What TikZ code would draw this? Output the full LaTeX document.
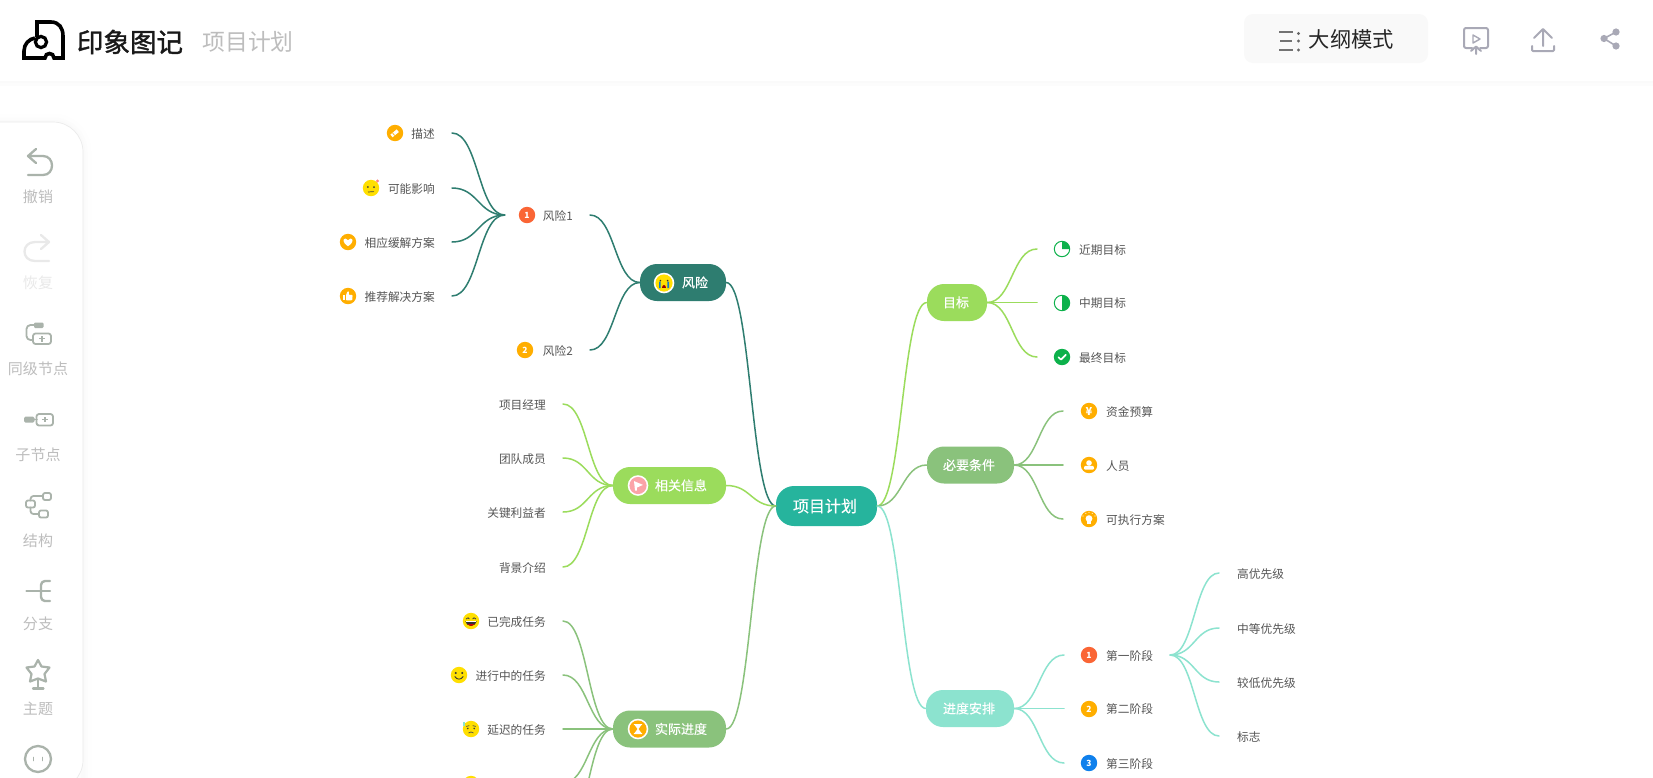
\documentclass[tikz,border=0pt]{standalone}
\usepackage{fontspec}
\setmainfont{Noto Sans CJK SC}
\newfontfamily\brandfont[FakeBold=1.4]{Noto Sans CJK SC}
\newfontfamily\pillfont[FakeBold=0.35]{Noto Sans CJK SC}
\usetikzlibrary{calc}
\definecolor{cCentral}{HTML}{26B49D}
\definecolor{cRisk}{HTML}{2E7D70}
\definecolor{cLime}{HTML}{9BDC5C}
\definecolor{cSage}{HTML}{8AC27C}
\definecolor{cMint}{HTML}{8CE3CF}
\definecolor{cLeaf}{HTML}{555555}
\definecolor{cTool}{HTML}{AAB3AB}
\definecolor{cToolLabel}{HTML}{BDBDBD}
\definecolor{cOff}{HTML}{E9E9E9}
\definecolor{cTop}{HTML}{A9A9B6}
\definecolor{cOrange}{HTML}{FFAE00}
\definecolor{cRed}{HTML}{FA6535}
\definecolor{cBlue}{HTML}{0F80EC}
\definecolor{cPink}{HTML}{FBA3A8}
\definecolor{cYel}{HTML}{FFDF00}
\definecolor{cGreen}{HTML}{0DB14B}
\newcommand\pad[3]{\hspace*{#1pt}#2\hspace*{#3pt}}
\tikzset{
  x=1pt,y=-1pt,
  conn/.style={line width=1.5pt,line cap=round},
  sc/.style={to path={let \p1=(\tikztostart),\p2=(\tikztotarget) in .. controls ({.5*\x1+.5*\x2},\y1) and ({.5*\x1+.5*\x2},\y2) .. (\tikztotarget)}},
  leaf/.style={inner sep=0pt,text=cLeaf,font=\fontsize{11.7}{12}\selectfont,text height=11.3pt,text depth=1pt},
  pill/.style={inner sep=0pt,rounded corners=17pt,text=white,minimum height=37pt,font=\pillfont\fontsize{13}{14}\selectfont,text height=11.4pt,text depth=1.6pt},
  toollabel/.style={inner sep=0pt,text=cToolLabel,font=\fontsize{15}{16}\selectfont},
  toolline/.style={draw=cTool,line width=2.3pt,line cap=round,line join=round,fill=none},
  topline/.style={draw=cTop,line width=2pt,line cap=round,line join=round,fill=none},
  pics/orangebase/.style={code={\fill[cOrange] (0,0) circle (8.2);}},
  pics/numdot/.style n args={2}{code={
    \fill[#1] (0,0) circle (8.2);
    \node[inner sep=0pt,text=white,font=\fontsize{8.5}{9}\bfseries\selectfont] (-n) at (0,0) {#2};}},
  pics/pencil/.style={code={
    \pic {orangebase};
    \fill[white,rotate=40] (-4.6,-1.7) rectangle (3.6,1.7);
    \fill[cOrange,rotate=40] (-2.2,-1.7) rectangle (-1.5,1.7);}},
  pics/heart/.style={code={
    \pic {orangebase};
    \fill[white] (0,4.2) .. controls (-6,.5) and (-5.2,-3.6) .. (-2.4,-3.4) .. controls (-1.2,-3.3) and (-.4,-2.5) .. (0,-1.8) .. controls (.4,-2.5) and (1.2,-3.3) .. (2.4,-3.4) .. controls (5.2,-3.6) and (6,.5) .. (0,4.2) -- cycle;}},
  pics/thumb/.style={code={
    \pic {orangebase};
    \fill[white] (-5,-.8) rectangle (-2.8,4.3);
    \fill[white,rounded corners=.8pt] (-2,4.3) -- (-2,-.8) -- (-.4,-4.8) -- (1,-4.6) -- (.7,-1.2) -- (4.6,-1.2) -- (4.2,4.3) -- cycle;}},
  pics/yen/.style={code={
    \pic {orangebase};
    \node[inner sep=0pt,text=white,font=\fontsize{11}{11}\bfseries\selectfont] (-n) at (0,0) {¥};}},
  pics/person/.style={code={
    \pic {orangebase};
    \fill[white] (0,-2) circle (2.8);
    \fill[white,rounded corners=1pt] (-5.2,4.5) -- (-4.6,.8) -- (4.6,.8) -- (5.2,4.5) -- cycle;}},
  pics/bulb/.style={code={
    \pic {orangebase};
    \fill[white] (0,-.4) circle (3.4);
    \fill[white] (-1.8,1) rectangle (1.8,4.6);
    \foreach \a/\b in {-6/-3,-3.2/-5.6,0/-6.6,3.2/-5.6,6/-3}{\fill[white] (\a,\b) circle (.55);}}},
  pics/faceflat/.style={code={
    \fill[cYel] (0,0) circle (8.2);
    \fill[black!75] (-3.2,-1) circle (1) (3,-1) circle (1);
    \draw[black!75,line width=.7pt] (-3,4) -- (3,3.6);
    \fill[red!50!white] (6.5,-7) circle (1.7);}},
  pics/facelaugh/.style={code={
    \fill[cYel] (0,0) circle (8.2);
    \draw[black!75,line width=.8pt] (-5,-2) -- (-3,-3.2) -- (-1.6,-2) (1.6,-2) -- (3,-3.2) -- (5,-2);
    \fill[black!80] (-5.6,0) .. controls (-4,6.6) and (4,6.6) .. (5.6,0) -- cycle;
    \fill[red!80!black] (-3.4,3) .. controls (-1.5,5.4) and (1.5,5.4) .. (3.4,3) -- cycle;
    \fill[white] (-5,.2) rectangle (5,1.2);}},
  pics/facesmile/.style={code={
    \fill[cYel] (0,0) circle (8.2);
    \fill[black!80] (-3.2,-2) circle (1.1) (3.2,-2) circle (1.1);
    \draw[black!80,line width=.8pt,line cap=round] (-4.2,1.5) .. controls (-2,5) and (2,5) .. (4.2,1.5);}},
  pics/facesweat/.style={code={
    \fill[cYel] (0,0) circle (8.2);
    \fill[cMint] (-8,-7.4) rectangle (-5.6,-2.8);
    \draw[black!70,line width=.7pt] (-4.8,-2.6) -- (-1.6,-3.4) (1.6,-3.4) -- (4.8,-2.6);
    \fill[black!75] (-3.2,-.6) circle (.9) (3.2,-.6) circle (.9);
    \draw[black!70,line width=.7pt] (-2.4,4) .. controls (-1,2.6) and (1,2.6) .. (2.4,4);}},
  pics/facecry/.style={code={
    \fill[white] (0,0) circle (10.3);
    \fill[cYel] (0,0) circle (8.6);
    \fill[black!80] (-3.6,-2.4) circle (.9) (3.6,-2.4) circle (.9);
    \fill[red!60!black] (-2,4.6) .. controls (-2,.8) and (2,.8) .. (2,4.6) -- cycle;
    \fill[cyan!60!blue] (-5,-1.4) rectangle (-3.4,5.2) (3.4,-1.4) rectangle (5,5.2);}},
  pics/flagicon/.style={code={
    \fill[white] (0,0) circle (10.3);
    \fill[cPink] (0,0) circle (8.6);
    \fill[white] (-4,-4.4) -- (5,-.6) -- (-1,2) -- (-1.2,5) -- (-3,5) -- cycle;}},
  pics/hourglass/.style={code={
    \fill[white] (0,0) circle (10.3);
    \fill[cOrange] (0,0) circle (8.6);
    \fill[white] (-4.2,-5) rectangle (4.2,-3.8) (-4.2,3.8) rectangle (4.2,5);
    \fill[white] (-3.2,-3.8) -- (3.2,-3.8) -- (.5,0) -- (3.2,3.8) -- (-3.2,3.8) -- (-.5,0) -- cycle;}},
  pics/pieq/.style={code={
    \draw[cGreen,line width=1pt,fill=white] (0,0) circle (7.7);
    \fill[cGreen] (0,0) -- (0,-7.7) arc[start angle=90,end angle=0,radius=7.7pt] -- cycle;}},
  pics/pieh/.style={code={
    \draw[cGreen,line width=1pt,fill=white] (0,0) circle (7.7);
    \fill[cGreen] (0,-7.7) arc[start angle=90,end angle=-90,radius=7.7pt] -- cycle;}},
  pics/piec/.style={code={
    \fill[cGreen] (0,0) circle (8.2);
    \draw[white,line width=1.6pt,line cap=round,line join=round] (-3.6,.2) -- (-1,2.6) -- (3.8,-2.2);}},
}
\begin{document}
\begin{tikzpicture}
\useasboundingbox (0,0) rectangle (1653,777);
\fill[white] (0,0) rectangle (1653,777);

% top bar shadow
\fill[black!2] (0,81) rectangle (1653,83);
\fill[black!1] (0,83) rectangle (1653,86);

% sidebar panel
\foreach \w/\c in {16/black!0.5,9/black!1,4/black!2}{
  \draw[line width=\w pt,\c,rounded corners=30pt] (-60,122) -- (83,122) -- (83,790);}
\fill[white,draw=black!8,line width=.7pt,rounded corners=30pt] (-60,122) -- (83,122) -- (83,790) -- (-60,790) -- cycle;

% logo
\draw[black,line width=3.6pt,line join=miter,line cap=butt]
  (37,37) -- (37,22) -- (51,22) .. controls (59,22) and (63,28) .. (63,36) -- (63,58) -- (54,58)
  .. controls (54,52) and (45,52) .. (45,58) -- (24,58) -- (24,51) .. controls (24,44) and (29,39) .. (35,38);
\draw[black,line width=3.2pt] (41,42) circle (5.6);
\node[inner sep=0pt,font=\brandfont\fontsize{26.5}{28}\selectfont,text=black!90] (brand) at (130,42) {印象图记};
\node[inner sep=0pt,font=\fontsize{22.8}{24}\selectfont,text=cToolLabel] (doctitle) at (248,42) {项目计划};

% outline button
\node[inner sep=0pt,fill=black!2.5,rounded corners=9pt,minimum width=184pt,minimum height=49pt] (outlinebtn) at (1336,38.5) {};
\draw[black!55,line width=1.5pt] (1279,32) -- (1293,32) (1280,41) -- (1292,41) (1279,50) -- (1293,50);
\fill[black!60] (1298.5,33.5) circle (1.6) (1298.5,41) circle (1.6) (1298.5,50) circle (1.6);
\node[inner sep=0pt,font=\fontsize{21.3}{22}\selectfont,text=black!85] (outlinetxt) at (1351.5,39.5) {大纲模式};

% present icon
\draw[topline,rounded corners=2pt] (1472,48) -- (1464,48) -- (1464,28) -- (1488,28) -- (1488,48) -- (1480,48);
\draw[cTop,line width=1.4pt,line join=round] (1473,35) -- (1480,39) -- (1473,43) -- cycle;
\draw[topline] (1476,54) -- (1476,47) (1471,51) -- (1476,46.5) -- (1481,51);
% upload icon
\draw[topline] (1543,46) -- (1543,30) (1534,38) -- (1543,29) -- (1552,38);
\draw[topline,rounded corners=1pt] (1532,46) -- (1532,51) -- (1554,51) -- (1554,46);
% share icon
\draw[cTop,line width=1.6pt] (1616,32) -- (1604,38.5) -- (1616,46);
\fill[cTop] (1616,32) circle (3.6) (1604,38.5) circle (3.6) (1616,46) circle (3.6);

% sidebar tools
% undo
\draw[toolline] (28,175) -- (43,175) .. controls (55,175) and (55,156) .. (43,156) -- (28,156) (36,149) -- (28,156) -- (36,163);
\node[toollabel] (undo) at (38,197) {撤销};
% redo
\draw[toolline,draw=cOff] (49,261) -- (35,261) .. controls (21,261) and (21,242) .. (35,242) -- (49,242) (41,235) -- (49,242) -- (41,249);
\node[toollabel,text=cOff] (redo) at (38,283) {恢复};
% sibling
\fill[cTool,rounded corners=1.2pt] (34,322.5) rectangle (43.5,328);
\draw[toolline,line width=1.8pt,rounded corners=4pt] (34,325) -- (26.5,325) -- (26.5,340) -- (33,340);
\draw[toolline,line width=1.8pt,rounded corners=2.5pt] (33,333.5) rectangle (51,344);
\draw[cTool,line width=1.3pt] (39,338.8) -- (45,338.8) (42,336) -- (42,341.6);
\node[toollabel] (sibling) at (38,369) {同级节点};
% child
\fill[cTool,rounded corners=1.5pt] (24,416.5) rectangle (34.5,422.5);
\draw[toolline,line width=1.8pt] (34,419.5) -- (37,419.5);
\draw[toolline,line width=1.8pt,rounded corners=2.5pt] (36.5,414) rectangle (53,425.5);
\draw[cTool,line width=1.3pt] (42,419.7) -- (48,419.7) (45,417) -- (45,422.4);
\node[toollabel] (child) at (38,454.5) {子节点};
% structure
\draw[toolline,line width=1.8pt,rounded corners=2pt] (26,500.5) rectangle (35,507.5);
\draw[toolline,line width=1.8pt,rounded corners=2pt] (43,493) rectangle (51,500);
\draw[toolline,line width=1.8pt,rounded corners=2pt] (39,510.5) rectangle (48,517.5);
\draw[toolline,line width=1.8pt,rounded corners=3pt] (30.5,500.5) -- (30.5,496) -- (43,496) (30.5,507.5) -- (30.5,514) -- (39,514);
\node[toollabel] (structure) at (38,541) {结构};
% branch
\draw[toolline,line width=2.4pt] (26.5,591) -- (50,591);
\draw[toolline,line width=2.4pt,rounded corners=4pt] (50,581) -- (41,581) -- (41,601) -- (50,601);
\node[toollabel] (branch) at (38,624) {分支};
% theme
\draw[toolline,line width=2.2pt] (38,660) -- (41.5,666.5) -- (49.5,667.5) -- (44.5,674) -- (46,681.5) -- (38,678.5) -- (30,681.5) -- (31.5,674) -- (26.5,667.5) -- (34.5,666.5) -- cycle;
\draw[toolline,line width=2.2pt] (38,679) -- (38,688) (33,688.5) -- (43.5,688.5);
\node[toollabel] (theme) at (38,709) {主题};
% face
\draw[toolline] (38,759) circle (13);
\draw[cTool,line width=1.6pt,line cap=round] (33.5,757.5) -- (33.5,760.5) (42.5,757.5) -- (42.5,760.5);

% main nodes
\node[pill,fill=cCentral,minimum height=40pt,rounded corners=18pt,font=\pillfont\fontsize{16}{17}\selectfont,text height=14.1pt,text depth=1.9pt] (central) at (826.5,506) {\pad{17}{项目计划}{20}};
\node[pill,fill=cRisk] (risk) at (683,282.5) {\pad{42}{风险}{18}};
\node[pill,fill=cLime] (info) at (669.5,485.5) {\pad{42}{相关信息}{19}};
\node[pill,fill=cSage] (progress) at (669.5,729) {\pad{42}{实际进度}{19}};
\node[pill,fill=cLime] (goal) at (957,302.5) {\pad{16}{目标}{18}};
\node[pill,fill=cSage] (need) at (970.5,465) {\pad{16}{必要条件}{19}};
\node[pill,fill=cMint] (plan) at (970,708.5) {\pad{17}{进度安排}{19}};

% left leaves, risk
\node[leaf,anchor=east] (r1a) at (452,133) {描述\hspace*{17pt}};
\node[leaf,anchor=east] (r1b) at (452,188) {可能影响\hspace*{17pt}};
\node[leaf,anchor=east] (r1c) at (452,242) {相应缓解方案\hspace*{17pt}};
\node[leaf,anchor=east] (r1d) at (452,296) {推荐解决方案\hspace*{17pt}};
\node[leaf,anchor=east] (r1) at (590,215) {\pad{38}{风险1}{17}};
\node[leaf,anchor=east] (r2) at (590,350) {\pad{38}{风险2}{17}};
% left leaves, info
\node[leaf,anchor=east] (i1) at (563,404) {项目经理\hspace*{17pt}};
\node[leaf,anchor=east] (i2) at (563,458) {团队成员\hspace*{17pt}};
\node[leaf,anchor=east] (i3) at (563,512) {关键利益者\hspace*{17pt}};
\node[leaf,anchor=east] (i4) at (563,567) {背景介绍\hspace*{17pt}};
% left leaves, progress
\node[leaf,anchor=east] (p1) at (563,621) {已完成任务\hspace*{17pt}};
\node[leaf,anchor=east] (p2) at (563,675) {进行中的任务\hspace*{17pt}};
\node[leaf,anchor=east] (p3) at (563,729) {延迟的任务\hspace*{17pt}};
\coordinate (p4) at (563,783);
\coordinate (p5) at (563,837);
% right leaves, goal
\node[leaf,anchor=west] (g1) at (1037,249) {\hspace*{42pt}近期目标};
\node[leaf,anchor=west] (g2) at (1037,302.5) {\hspace*{42pt}中期目标};
\node[leaf,anchor=west] (g3) at (1037,357) {\hspace*{42pt}最终目标};
% right leaves, need
\node[leaf,anchor=west] (n1) at (1063,411) {\hspace*{43pt}资金预算};
\node[leaf,anchor=west] (n2) at (1063,465) {\hspace*{43pt}人员};
\node[leaf,anchor=west] (n3) at (1063,519) {\hspace*{43pt}可执行方案};
% right leaves, plan
\node[leaf,anchor=west] (s1) at (1064,655) {\pad{42}{第一阶段}{17}};
\node[leaf,anchor=west] (s2) at (1064,708.5) {\hspace*{42pt}第二阶段};
\node[leaf,anchor=west] (s3) at (1064,763) {\hspace*{42pt}第三阶段};
\node[leaf,anchor=west] (t1) at (1219,573) {\hspace*{18pt}高优先级};
\node[leaf,anchor=west] (t2) at (1219,628) {\hspace*{18pt}中等优先级};
\node[leaf,anchor=west] (t3) at (1219,682) {\hspace*{18pt}较低优先级};
\node[leaf,anchor=west] (t4) at (1219,736) {\hspace*{18pt}标志};

% connectors
\draw[conn,cRisk] (central.west) to[sc] (risk.east);
\draw[conn,cLime] (central.west) to[sc] (info.east);
\draw[conn,cSage] (central.west) to[sc] (progress.east);
\draw[conn,cLime] (central.east) to[sc] (goal.west);
\draw[conn,cSage] (central.east) to[sc] (need.west);
\draw[conn,cMint] (central.east) to[sc] (plan.west);
\foreach \nd in {r1,r2}{\draw[conn,cRisk] (risk.west) to[sc] (\nd.east);}
\foreach \nd in {r1a,r1b,r1c,r1d}{\draw[conn,cRisk] (r1.west) to[sc] (\nd.east);}
\foreach \nd in {i1,i2,i3,i4}{\draw[conn,cLime] (info.west) to[sc] (\nd.east);}
\foreach \nd in {p1,p2,p3}{\draw[conn,cSage] (progress.west) to[sc] (\nd.east);}
\foreach \nd in {p4,p5}{\draw[conn,cSage] (progress.west) to[sc] (\nd);}
\foreach \nd in {g1,g2,g3}{\draw[conn,cLime] (goal.east) to[sc] (\nd.west);}
\foreach \nd in {n1,n2,n3}{\draw[conn,cSage] (need.east) to[sc] (\nd.west);}
\foreach \nd in {s1,s2,s3}{\draw[conn,cMint] (plan.east) to[sc] (\nd.west);}
\foreach \nd in {t1,t2,t3,t4}{\draw[conn,cMint] (s1.east) to[sc] (\nd.west);}

% icons
\pic (ic1) at (395,133) {pencil};
\pic (ic2) at (371,188) {faceflat};
\pic (ic3) at (348,242) {heart};
\pic (ic4) at (348,296) {thumb};
\pic (ic5) at (527,215) {numdot={cRed}{1}};
\pic (ic6) at (525,350) {numdot={cOrange}{2}};
\pic (ic7) at (664,283) {facecry};
\pic (ic8) at (638,485.5) {flagicon};
\pic (ic9) at (638,729) {hourglass};
\pic (ic10) at (471,621) {facelaugh};
\pic (ic11) at (459,675) {facesmile};
\pic (ic12) at (471,729) {facesweat};
\pic (ic13) at (471,784) {facesmile};
\pic (ic14) at (1062,249) {pieq};
\pic (ic15) at (1062,303) {pieh};
\pic (ic16) at (1062,357) {piec};
\pic (ic17) at (1089,411) {yen};
\pic (ic18) at (1089,465) {person};
\pic (ic19) at (1089,519) {bulb};
\pic (ic20) at (1089,655) {numdot={cRed}{1}};
\pic (ic21) at (1089,709) {numdot={cOrange}{2}};
\pic (ic22) at (1089,763) {numdot={cBlue}{3}};
\end{tikzpicture}
\end{document}
